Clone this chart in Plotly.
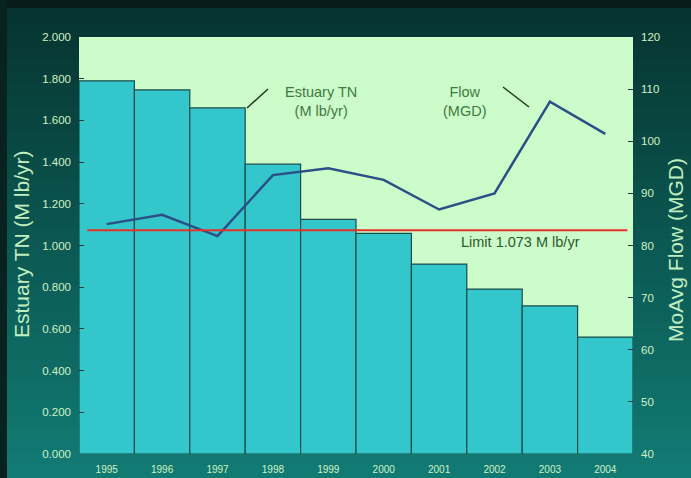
import plotly.graph_objects as go

years = ["1995", "1996", "1997", "1998", "1999", "2000", "2001", "2002", "2003", "2004"]
estuary_tn = [1.790, 1.746, 1.660, 1.390, 1.125, 1.058, 0.911, 0.791, 0.710, 0.561]
flow_mgd = [84.1, 85.9, 81.8, 93.5, 94.8, 92.6, 86.9, 90.0, 107.6, 101.4]
limit_tn = 1.073
left_ticks = [0, 0.2, 0.4, 0.6, 0.8, 1.0, 1.2, 1.4, 1.6, 1.8, 2.0]
right_ticks = [40, 50, 60, 70, 80, 90, 100, 110, 120]

W, H = 691, 478
L, R, T, B = 79, 58, 37, 24
pw, ph = W - L - R, H - T - B

def px(x):
    return (x - L) / pw

def py(y):
    return (H - B - y) / ph

def lerp(c1, c2, t):
    return "rgb(%d,%d,%d)" % tuple(round(a + (b - a) * t) for a, b in zip(c1, c2))

shapes = []
# background gradient
n = 40
top_c = (6, 50, 46)
bot_c = (17, 124, 116)
for i in range(n):
    y0 = H * i / n
    y1 = H * (i + 1) / n
    t = (i + 0.5) / n
    shapes.append(dict(type="rect", xref="paper", yref="paper",
                       x0=px(0), x1=px(W), y0=py(y1), y1=py(y0) + 0.002,
                       fillcolor=lerp(top_c, bot_c, t), line=dict(width=0), layer="below"))
# dark top and left strips
shapes.append(dict(type="rect", xref="paper", yref="paper", x0=px(0), x1=px(W),
                   y0=py(8), y1=py(0), fillcolor="rgb(8,28,26)", line=dict(width=0), layer="below"))
shapes.append(dict(type="rect", xref="paper", yref="paper", x0=px(0), x1=px(7),
                   y0=py(H), y1=py(0), fillcolor="rgb(8,34,31)", line=dict(width=0), layer="below"))
# plot background
shapes.append(dict(type="rect", xref="paper", yref="paper", x0=0, x1=1, y0=0, y1=1,
                   fillcolor="#ccfcca", line=dict(width=0), layer="below"))
# limit line
shapes.append(dict(type="line", xref="x domain", yref="y", x0=0.015, x1=0.99,
                   y0=limit_tn, y1=limit_tn, line=dict(color="#e8302a", width=2)))
# pointer lines
shapes.append(dict(type="line", xref="paper", yref="paper", x0=px(247), y0=py(108),
                   x1=px(268), y1=py(89), line=dict(color="#1f3a1f", width=1.5)))
shapes.append(dict(type="line", xref="paper", yref="paper", x0=px(503), y0=py(87),
                   x1=px(529), y1=py(107), line=dict(color="#1f3a1f", width=1.5)))

fig = go.Figure()
fig.add_trace(go.Bar(x=years, y=estuary_tn, marker=dict(color="#33c7cb",
                     line=dict(color="#1b4b4b", width=1.2)), yaxis="y", showlegend=False,
                     hoverinfo="skip"))
fig.add_trace(go.Scatter(x=years, y=flow_mgd, mode="lines", yaxis="y2",
                         line=dict(color="#2b4f86", width=2.5), showlegend=False,
                         hoverinfo="skip"))

tick_color = "#d0f2c4"
font_main = "Liberation Sans, Arial"

def ann(text, x, y, size, color, angle=0):
    return dict(text=text, xref="paper", yref="paper", x=px(x), y=py(y),
                xanchor="center", yanchor="middle", textangle=angle, showarrow=False,
                font=dict(size=size, color=color, family=font_main))

annotations = [
    ann("Limit 1.073 M lb/yr", 520, 242, 14.5, "#2c5a2c"),
    ann("Estuary TN<br>(M lb/yr)", 321, 101, 14.5, "#3f7a3f"),
    ann("Flow<br>(MGD)", 465, 101, 14.5, "#3f7a3f"),
    ann("Estuary TN (M lb/yr)", 21, 245, 21, "#c0eec0", -90),
    ann("MoAvg Flow (MGD)", 676, 250, 21, "#c0eec0", -90),
]

fig.update_layout(
    width=W, height=H,
    autosize=False,
    margin=dict(l=L, r=R, t=T, b=B),
    paper_bgcolor="#0b5a54",
    plot_bgcolor="#ccfcca",
    bargap=0,
    shapes=shapes,
    annotations=annotations,
    xaxis=dict(type="category", showgrid=False, showline=False, ticks="", automargin=False,
               tickfont=dict(size=10, color=tick_color, family=font_main), ticklabelstandoff=8),
    yaxis=dict(range=[0, 2.0], tickvals=left_ticks, tickformat=".3f", showgrid=False,
               zeroline=False, showline=False, ticks="inside", ticklen=5, tickcolor="#1b3b3b",
               ticklabelstandoff=7, automargin=False,
               tickfont=dict(size=11.5, color=tick_color, family=font_main)),
    yaxis2=dict(range=[40, 120], tickvals=right_ticks, overlaying="y", side="right",
                showgrid=False, zeroline=False, showline=False, ticks="inside", ticklen=5,
                tickcolor="#1b3b3b", ticklabelstandoff=7, automargin=False,
                tickfont=dict(size=11.5, color=tick_color, family=font_main)),
)

fig.write_html("out.html",
               config={"responsive": False, "displayModeBar": False, "staticPlot": True},
               post_script="document.documentElement.style.margin='0';"
                           "document.documentElement.style.overflow='hidden';"
                           "document.body.style.margin='0';"
                           "document.body.style.overflow='hidden';"
                           "document.body.style.background='#081c1a';")
